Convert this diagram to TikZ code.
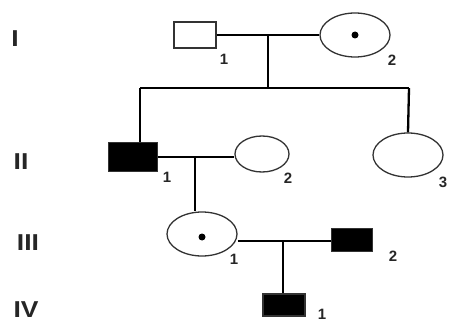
\documentclass[tikz,border=0pt]{standalone}
\usepackage{fontspec}
\setmainfont{Liberation Sans}
\usetikzlibrary{shapes.geometric}
\begin{document}
\begin{tikzpicture}[x=1pt,y=-1pt,
  male/.style={draw=black!80,line width=1.3pt,minimum width=42pt,minimum height=26pt,inner sep=0pt},
  female/.style={draw=black!80,line width=1.3pt,ellipse,minimum width=70pt,minimum height=44pt,inner sep=0pt},
  aff/.style={fill=black},
  link/.style={line width=2.3pt},
  num/.style={font=\fontsize{15}{15}\selectfont\bfseries,inner sep=0pt,text=black!85},
  gen/.style={font=\fontsize{23}{23}\selectfont\bfseries,inner sep=0pt,xscale=1.15,text=black!85},
  dot/.style={circle,fill=black,minimum size=7pt,inner sep=0pt}]
\useasboundingbox (0,0) rectangle (449,323);
% generation labels
\node[gen] (gI) at (15,39) {I};
\node[gen] (gII) at (21,162) {II};
\node[gen] (gIII) at (28,243) {III};
\node[gen] (gIV) at (26,310) {IV};
% row I
\node[male] (a1) at (195,35) {};
\node[female] (a2) at (355,35) {};
\node[dot] (a2d) at (355,35) {};
\node[num] (a1n) at (224,59) {1};
\node[num] (a2n) at (392,60) {2};
\coordinate (mI) at (268,35);
\coordinate (sL) at (140,88);
\coordinate (sM) at (268,88);
\coordinate (sR) at (409,88);
\draw[link] (a1.east) -- (a2.west);
\draw[link] (mI) -- (sM);
\draw[link] (sL) -- (sR);
% row II
\node[male,aff,minimum width=49pt,minimum height=29pt] (b1) at (133,157) {};
\node[female,minimum width=54pt,minimum height=36pt] (b2) at (262,154) {};
\node[female] (b3) at (408,155) {};
\node[num] (b1n) at (167,177) {1};
\node[num] (b2n) at (288,178) {2};
\node[num] (b3n) at (443,182) {3};
\draw[link] (sL) -- (sL |- b1.north);
\draw[link] (sR) -- (b3.north);
\draw[link] (b1.east |- 0,157) -- (b2.west |- 0,157);
\coordinate (mII) at (195,157);
% row III
\node[female] (c1) at (202,234) {};
\node[dot] (c1d) at (202,237) {};
\node[male,aff,minimum width=41pt,minimum height=23pt] (c2) at (352,240) {};
\node[num] (c1n) at (234,259) {1};
\node[num] (c2n) at (393,256) {2};
\draw[link] (mII) -- (mII |- c1.north);
\draw[link] (c1.east |- 0,241) -- (c2.west |- 0,241);
\coordinate (mIII) at (283,241);
% row IV
\node[male,aff,minimum width=42pt,minimum height=22pt] (d1) at (284,305) {};
\node[num] (d1n) at (322,314) {1};
\draw[link] (mIII) -- (d1.north -| mIII);
\end{tikzpicture}
\end{document}
